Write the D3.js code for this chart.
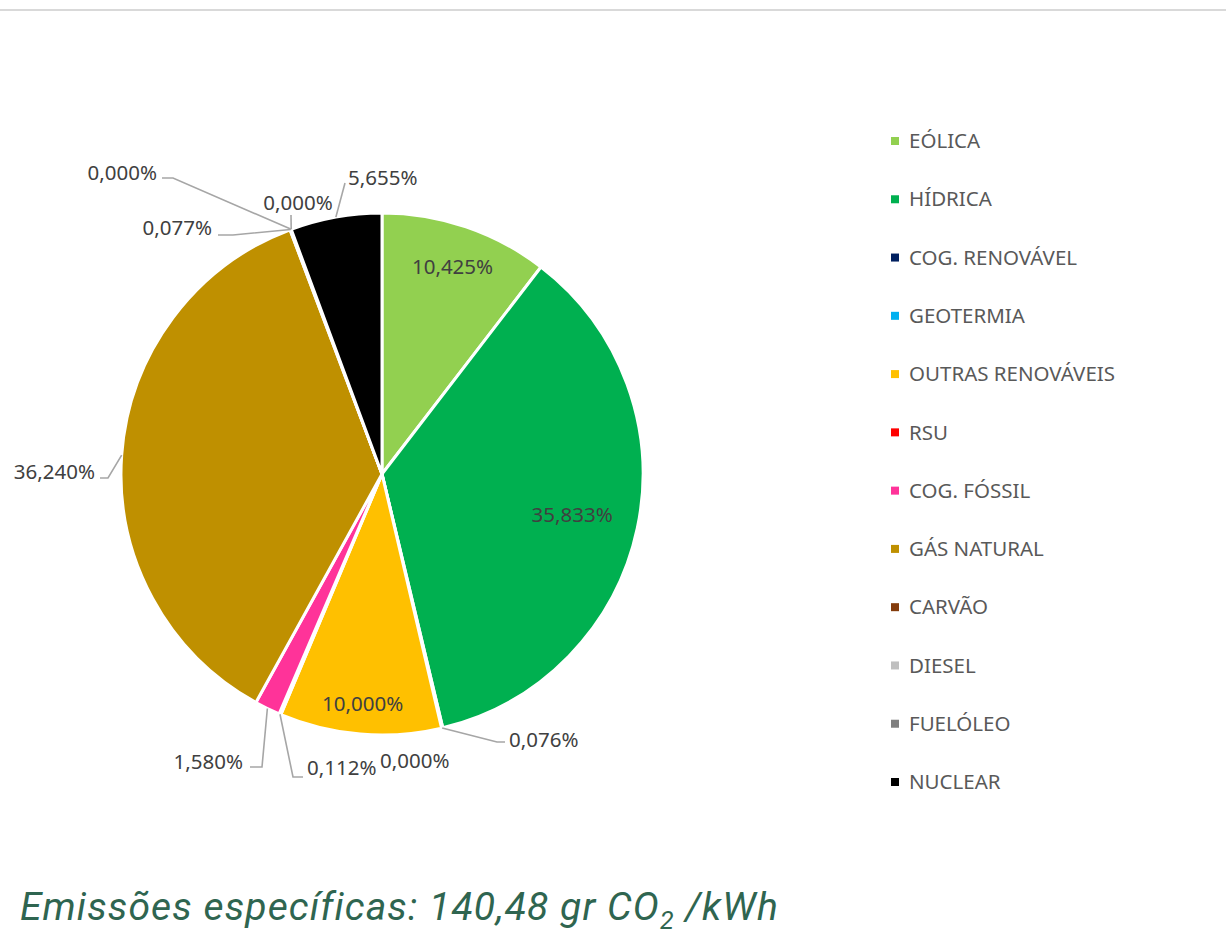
<!DOCTYPE html>
<html>
<head>
<meta charset="utf-8">
<script src="https://cdn.jsdelivr.net/npm/d3@7"></script>
<style>
  body { margin: 0; background: #fff; }
  svg { display: block; }
</style>
</head>
<body>
<svg id="chart" width="1226" height="951"></svg>
<script>
// data (clockwise from 12 o'clock)
const categories = ["EÓLICA", "HÍDRICA", "COG. RENOVÁVEL", "GEOTERMIA", "OUTRAS RENOVÁVEIS", "RSU",
  "COG. FÓSSIL", "GÁS NATURAL", "CARVÃO", "DIESEL", "FUELÓLEO", "NUCLEAR"];
const shares = [10.425, 35.833, 0.076, 0.000, 10.000, 0.112, 1.580, 36.240, 0.077, 0.000, 0.000, 5.655];
const colors = ["#92d050", "#00b050", "#002060", "#00b0f0", "#ffc000", "#ff0000",
  "#ff3399", "#bf9000", "#843c0c", "#bfbfbf", "#7f7f7f", "#000000"];
const footnote = { before: "Emissões específicas: 140,48 gr CO", sub: "2", after: " /kWh" };

// label placement, relative to the pie centre
const inside = { "EÓLICA": 0.84, "HÍDRICA": 0.745, "OUTRAS RENOVÁVEIS": 0.885 };
const outside = {
  "COG. RENOVÁVEL": { x: 127, y: 266, anchor: "start", line: [[115, 268], [123, 268]] },
  "GEOTERMIA": { x: -2, y: 287, anchor: "start", line: null },
  "RSU": { x: -75, y: 294, anchor: "start", line: [[-89, 303], [-79, 303]] },
  "COG. FÓSSIL": { x: -139, y: 288, anchor: "end", line: [[-120, 293], [-132, 293]] },
  "GÁS NATURAL": { x: -287, y: -2, anchor: "end", line: [[-274, 4], [-282, 4]] },
  "CARVÃO": { x: -170, y: -246, anchor: "end", line: [[-149, -239], [-164, -239]] },
  "DIESEL": { x: -225, y: -301, anchor: "end", line: [[-209, -296], [-220, -296]] },
  "FUELÓLEO": { x: -84, y: -271, anchor: "middle", line: [[-91, -259]] },
  "NUCLEAR": { x: -34, y: -296, anchor: "start", line: [[-37, -291]] }
};

const svg = d3.select("#chart");
const fmt = v => d3.format(".3f")(v).replace(".", ",") + "%";
const font = "'Noto Sans', sans-serif";

// thin rule at the top
svg.append("rect").attr("x", 0).attr("y", 9).attr("width", 1226).attr("height", 2).attr("fill", "#d9d9d9");

const cx = 382, cy = 474, radius = 261;
const items = categories.map((c, i) => ({ name: c, value: shares[i], color: colors[i] }));

const pie = d3.pie().sort(null).value(d => d.value);
const arcs = pie(items);
const arc = d3.arc().innerRadius(0).outerRadius(radius);

const g = svg.append("g").attr("transform", `translate(${cx},${cy})`);

g.selectAll("path.slice")
  .data(arcs)
  .join("path")
  .attr("class", "slice")
  .attr("d", arc)
  .attr("fill", d => d.data.color)
  .attr("stroke", "#fff")
  .attr("stroke-width", 3)
  .attr("stroke-linejoin", "round");

// leader lines
const edge = d => {
  const a = (d.startAngle + d.endAngle) / 2;
  return [radius * Math.sin(a), -radius * Math.cos(a)];
};
g.selectAll("polyline.leader")
  .data(arcs.filter(d => outside[d.data.name] && outside[d.data.name].line))
  .join("polyline")
  .attr("class", "leader")
  .attr("points", d => [edge(d)].concat(outside[d.data.name].line).join(" "))
  .attr("fill", "none")
  .attr("stroke", "#a6a6a6")
  .attr("stroke-width", 1.6);

// labels inside the slices
g.selectAll("text.in")
  .data(arcs.filter(d => inside[d.data.name]))
  .join("text")
  .attr("class", "in")
  .attr("transform", d => {
    const r = radius * inside[d.data.name];
    return `translate(${d3.arc().innerRadius(r).outerRadius(r).centroid(d)})`;
  })
  .attr("text-anchor", "middle")
  .attr("dy", "0.35em")
  .attr("font-family", font)
  .attr("font-size", 20.5)
  .attr("fill", "#404040")
  .text(d => fmt(d.data.value));

// labels outside
g.selectAll("text.out")
  .data(arcs.filter(d => outside[d.data.name]))
  .join("text")
  .attr("class", "out")
  .attr("x", d => outside[d.data.name].x)
  .attr("y", d => outside[d.data.name].y)
  .attr("text-anchor", d => outside[d.data.name].anchor)
  .attr("dy", "0.35em")
  .attr("font-family", font)
  .attr("font-size", 20.5)
  .attr("fill", "#404040")
  .text(d => fmt(d.data.value));

// legend
const ly = d3.scalePoint().domain(categories).range([141, 782]);
const legend = svg.append("g").attr("transform", "translate(891,0)");
const row = legend.selectAll("g")
  .data(items)
  .join("g")
  .attr("transform", d => `translate(0,${ly(d.name)})`);
row.append("rect")
  .attr("x", 0).attr("y", -4).attr("width", 8).attr("height", 8)
  .attr("fill", d => d.color);
row.append("text")
  .attr("x", 18)
  .attr("dy", "0.35em")
  .attr("font-family", font)
  .attr("font-size", 20.5)
  .attr("fill", "#595959")
  .text(d => d.name);

// footnote
const note = svg.append("text")
  .attr("x", 20).attr("y", 920)
  .attr("font-family", "Roboto, sans-serif")
  .attr("font-style", "italic")
  .attr("font-size", 39)
  .attr("letter-spacing", 1.1)
  .attr("fill", "#2f6550");
note.append("tspan").text(footnote.before);
note.append("tspan").attr("font-size", 25).attr("dy", 9).text(footnote.sub);
note.append("tspan").attr("dy", -9).text(footnote.after);
</script>
</body>
</html>
